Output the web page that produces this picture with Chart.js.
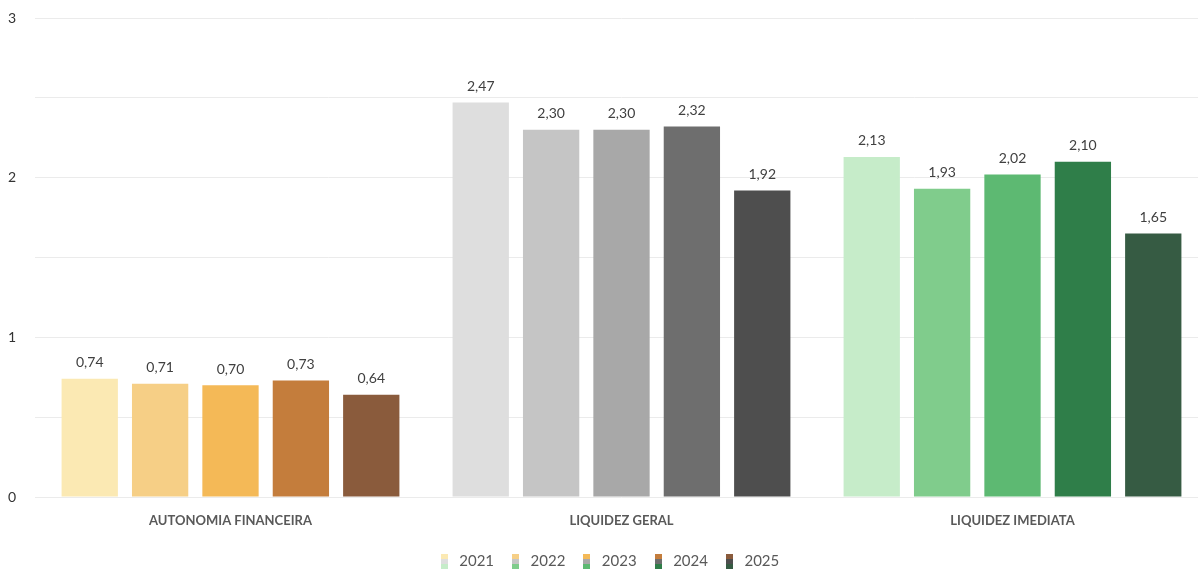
<!DOCTYPE html>
<html>
<head>
<meta charset="utf-8">
<script src="https://cdn.jsdelivr.net/npm/chart.js@4.4.1/dist/chart.umd.min.js"></script>
<style>
  html, body { margin: 0; padding: 0; background: #fff; overflow: hidden; }
  #wrap { width: 1208px; height: 571px; }
</style>
</head>
<body>
<div id="wrap"><canvas id="myChart"></canvas></div>
<script>
const categories = ['AUTONOMIA FINANCEIRA', 'LIQUIDEZ GERAL', 'LIQUIDEZ IMEDIATA'];
const years = ['2021', '2022', '2023', '2024', '2025'];

const values2021 = [0.74, 2.47, 2.13];
const values2022 = [0.71, 2.30, 1.93];
const values2023 = [0.70, 2.30, 2.02];
const values2024 = [0.73, 2.32, 2.10];
const values2025 = [0.64, 1.92, 1.65];

const yTicks = [0, 1, 2, 3];

// one colour per category, per year
const colors = [
  ['#fbe9b3', '#dedede', '#c6ecc9'],
  ['#f6cf86', '#c5c5c5', '#80cc8c'],
  ['#f4b957', '#a8a8a8', '#5db972'],
  ['#c47d3c', '#6e6e6e', '#2f7e49'],
  ['#8a5b3c', '#4e4e4e', '#365b43'],
];

const series = [values2021, values2022, values2023, values2024, values2025];

const swatch = (cols) => {
  const c = document.createElement('canvas');
  c.width = 7;
  c.height = 15;
  const ctx = c.getContext('2d');
  cols.forEach((col, i) => {
    ctx.fillStyle = col;
    ctx.fillRect(0, i * 5, 7, 5);
  });
  return c;
};

const valueLabels = {
  id: 'valueLabels',
  afterDatasetsDraw(chart) {
    const { ctx } = chart;
    ctx.save();
    ctx.font = '14px Lato, "Open Sans", sans-serif';
    ctx.fillStyle = '#404040';
    ctx.textAlign = 'center';
    ctx.textBaseline = 'bottom';
    chart.data.datasets.forEach((ds, i) => {
      chart.getDatasetMeta(i).data.forEach((bar, j) => {
        const text = ds.data[j].toFixed(2).replace('.', ',');
        ctx.fillText(text, bar.x, bar.y - 9);
      });
    });
    ctx.restore();
  },
};

new Chart(document.getElementById('myChart'), {
  type: 'bar',
  data: {
    labels: categories,
    datasets: series.map((data, i) => ({
      label: years[i],
      data,
      backgroundColor: colors[i],
      categoryPercentage: 0.9,
      barPercentage: 0.8,
    })),
  },
  options: {
    responsive: true,
    maintainAspectRatio: false,
    animation: false,
    layout: { padding: { top: 18, right: 0, left: 8, bottom: 0 } },
    scales: {
      x: {
        afterFit(scale) { scale.height = 43; },
        grid: { display: false, drawTicks: false },
        border: { display: false },
        ticks: {
          color: '#595959',
          padding: 16,
          font: { family: 'Lato, "Open Sans", sans-serif', size: 13, weight: 'bold' },
        },
      },
      y: {
        min: 0,
        max: 3,
        afterFit(scale) { scale.width = 27; },
        grid: { color: '#ebebeb', lineWidth: 1, drawTicks: false },
        border: { display: false },
        ticks: {
          stepSize: 0.5,
          padding: 0,
          crossAlign: 'far',
          color: '#333',
          font: { family: 'Lato, "Open Sans", sans-serif', size: 14 },
          callback: (v) => (yTicks.includes(v) ? String(v) : ''),
        },
      },
    },
    plugins: {
      tooltip: { enabled: false },
      legend: {
        position: 'bottom',
        maxHeight: 31,
        labels: {
          usePointStyle: true,
          padding: 14,
          color: '#595959',
          font: { family: 'Lato, "Open Sans", sans-serif', size: 15 },
          generateLabels: (chart) => chart.data.datasets.map((ds, i) => ({
            text: ds.label,
            pointStyle: swatch(colors[i]),
            fillStyle: colors[i][0],
            strokeStyle: 'transparent',
            lineWidth: 0,
            fontColor: '#595959',
            datasetIndex: i,
          })),
        },
      },
    },
  },
  plugins: [valueLabels],
});
</script>
</body>
</html>
